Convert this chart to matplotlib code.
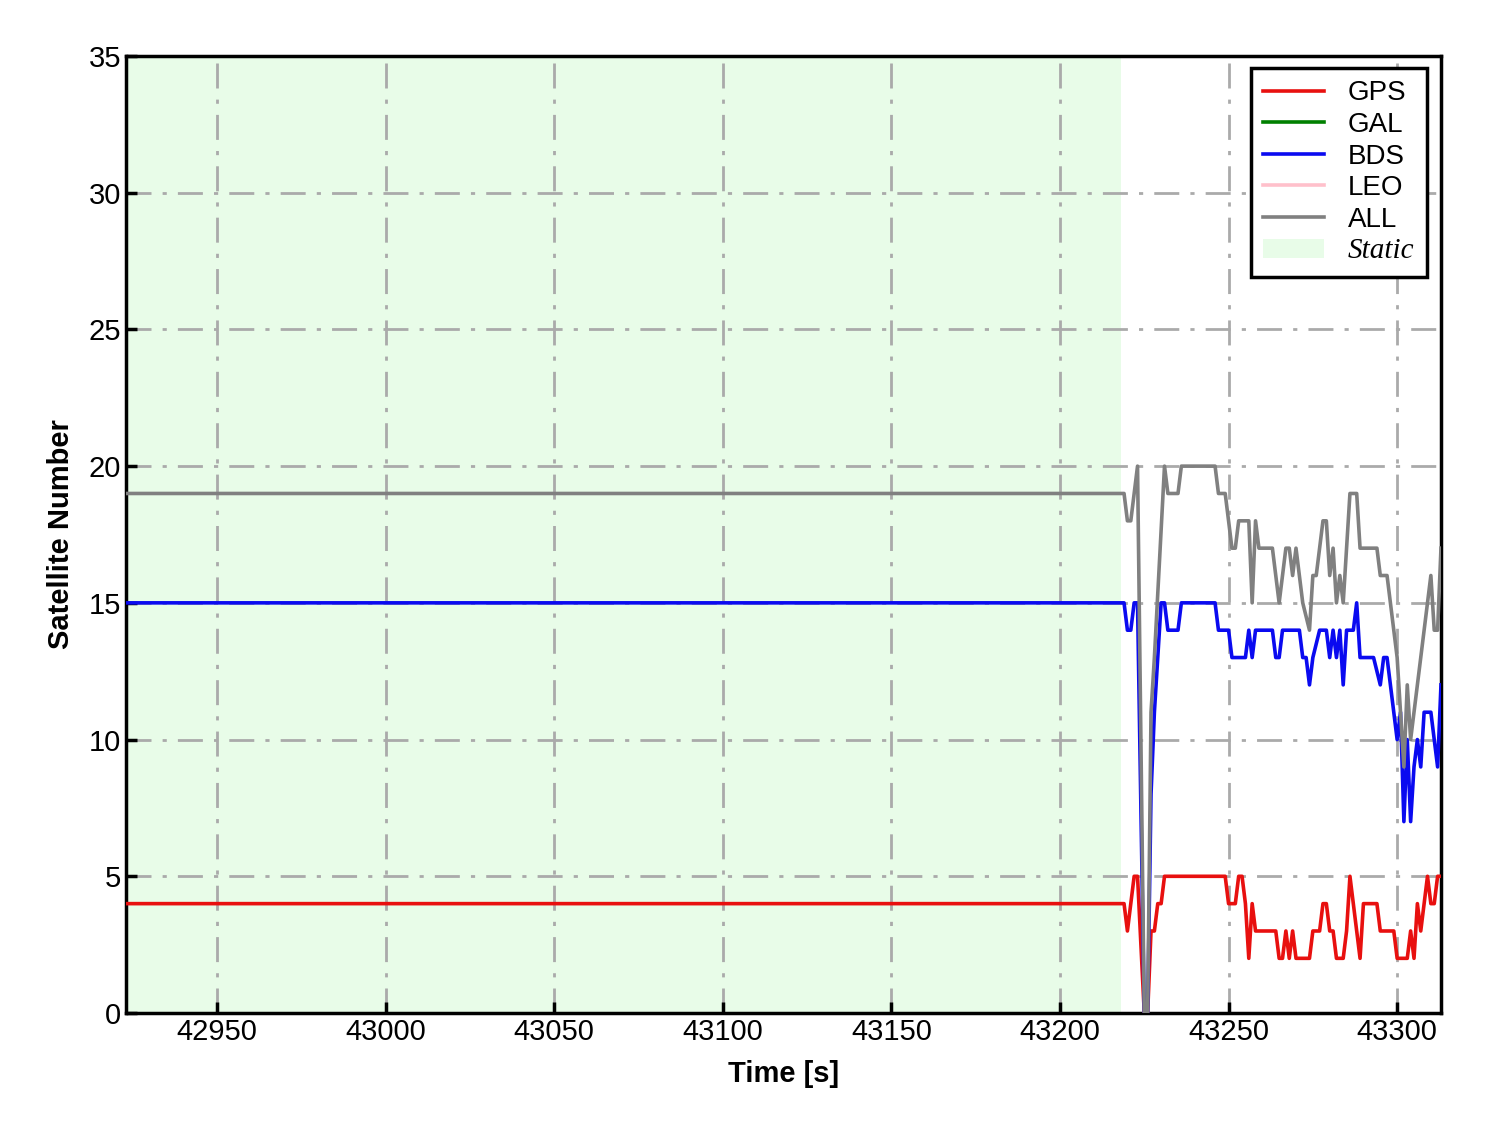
import matplotlib.pyplot as plt
from matplotlib.patches import Patch
from matplotlib.lines import Line2D

# time vertices (s)
t_gps = [42923, 43218, 43219, 43220, 43221, 43222, 43223, 43225, 43226, 43227,
         43228, 43229, 43230, 43231, 43249, 43250, 43252, 43253, 43254, 43255,
         43256, 43257, 43258, 43264, 43265, 43266, 43267, 43268, 43269, 43270,
         43274, 43275, 43277, 43278, 43279, 43280, 43281, 43282, 43284, 43285,
         43286, 43287, 43289, 43290, 43294, 43295, 43299, 43300, 43303, 43304,
         43305, 43306, 43307, 43308, 43309, 43310, 43311, 43312, 43313]
gps = [4, 4, 4, 3, 4, 5, 5, 0, 0, 3,
       3, 4, 4, 5, 5, 4, 4, 5, 5, 4,
       2, 4, 3, 3, 2, 2, 3, 2, 3, 2,
       2, 3, 3, 4, 4, 3, 3, 2, 2, 3,
       5, 4, 2, 4, 4, 3, 3, 2, 2, 3,
       2, 4, 3, 4, 5, 4, 4, 5, 5]

t_bds = [42923, 43219, 43220, 43221, 43222, 43223, 43225, 43226, 43227, 43228,
         43229, 43230, 43231, 43232, 43235, 43236, 43246, 43247, 43250, 43251,
         43255, 43256, 43257, 43258, 43263, 43264, 43265, 43266, 43271, 43272,
         43273, 43274, 43275, 43277, 43279, 43280, 43281, 43282, 43283, 43284,
         43285, 43287, 43288, 43289, 43293, 43295, 43296, 43297, 43300, 43301,
         43302, 43303, 43304, 43305, 43306, 43307, 43308, 43310, 43311, 43312,
         43313]
bds = [15, 15, 14, 14, 15, 15, 0, 0, 8, 11,
       13, 15, 15, 14, 14, 15, 15, 14, 14, 13,
       13, 14, 13, 14, 14, 13, 13, 14, 14, 13,
       13, 12, 13, 14, 14, 13, 14, 13, 14, 12,
       14, 14, 15, 13, 13, 12, 13, 13, 10, 11,
       7, 10, 7, 9, 10, 9, 11, 11, 10, 9,
       12]

t_all = [42923, 43219, 43220, 43221, 43223, 43225, 43226, 43227, 43228, 43231,
         43232, 43235, 43236, 43246, 43247, 43249, 43251, 43252, 43253, 43256,
         43257, 43258, 43259, 43263, 43265, 43267, 43268, 43269, 43270, 43272,
         43274, 43275, 43276, 43278, 43279, 43280, 43281, 43282, 43283, 43284,
         43286, 43288, 43289, 43294, 43295, 43297, 43299, 43300, 43301, 43302,
         43303, 43304, 43305, 43310, 43311, 43312, 43313]
all_sat = [19, 19, 18, 18, 20, 0, 0, 11, 13, 20,
           19, 19, 20, 20, 19, 19, 17, 17, 18, 18,
           15, 18, 17, 17, 15, 17, 17, 16, 17, 15,
           14, 16, 16, 18, 18, 16, 17, 15, 16, 15,
           19, 19, 17, 17, 16, 16, 14, 13, 11, 9,
           12, 10, 11, 16, 14, 14, 17]

t_gal, gal = [], []
t_leo, leo = [], []

static_start, static_end = 42923, 43218

plt.rcParams['font.family'] = ['Liberation Sans', 'DejaVu Sans']

fig = plt.figure(figsize=(14.88, 11.33), dpi=100)
ax = fig.add_axes([0.0847, 0.1059, 0.8837, 0.8447])

ax.axvspan(static_start, static_end, color='#e8fce8', lw=0, zorder=0)

lw = 2.6
ax.plot(t_gps, gps, color='#e8100f', lw=lw, zorder=3)
ax.plot(t_gal, gal, color='green', lw=lw, zorder=3)
ax.plot(t_bds, bds, color='#0a0af0', lw=lw, zorder=3)
ax.plot(t_leo, leo, color='pink', lw=lw, zorder=3)
ax.plot(t_all, all_sat, color='gray', lw=lw, zorder=3)

ax.set_xlim(42923, 43313)
ax.set_ylim(0, 35)
ax.set_xticks(range(42950, 43301, 50))
ax.set_yticks(range(0, 36, 5))

ax.grid(True, color='#aaaaaa', lw=2, linestyle=(0, (9, 4, 1.5, 4)), zorder=1)
ax.set_axisbelow(True)

for s in ax.spines.values():
    s.set_linewidth(2.5)
ax.tick_params(direction='in', length=8, width=2.5, labelsize=21)

ax.set_xlabel('Time [s]', fontsize=21, fontweight='bold', labelpad=10)
ax.set_ylabel('Satellite Number', fontsize=21, fontweight='bold', labelpad=10)

handles = [Line2D([], [], color='#e8100f', lw=lw),
           Line2D([], [], color='green', lw=lw),
           Line2D([], [], color='#0a0af0', lw=lw),
           Line2D([], [], color='pink', lw=lw),
           Line2D([], [], color='gray', lw=lw),
           Patch(facecolor='#e8fce8', edgecolor='none')]
labels = ['GPS', 'GAL', 'BDS', 'LEO', 'ALL', 'Static']
leg = ax.legend(handles, labels, loc='upper right', fontsize=20,
                fancybox=False, edgecolor='black', framealpha=1,
                handlelength=2.2, labelspacing=0.2, borderpad=0.45,
                handletextpad=0.85, borderaxespad=0,
                bbox_to_anchor=(0.9894, 0.9875))
leg.get_frame().set_linewidth(2.5)
leg.get_texts()[-1].set_fontfamily('Liberation Serif')
leg.get_texts()[-1].set_fontstyle('italic')
leg.get_texts()[-1].set_fontsize(21)

fig.savefig('out.png', dpi=100)
